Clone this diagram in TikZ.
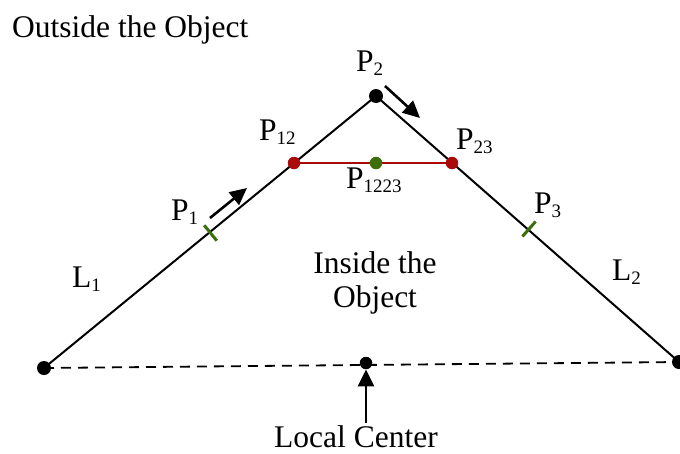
\documentclass[tikz,border=0pt]{standalone}
\usepackage{fontspec}
\setmainfont{Liberation Serif}
\usetikzlibrary{arrows.meta,calc}
\newcommand{\sbs}[1]{\raisebox{-4pt}{\fontsize{19pt}{19pt}\selectfont #1}}
\definecolor{dred}{RGB}{170,10,10}
\definecolor{dgreen}{RGB}{60,110,10}
\begin{document}
\begin{tikzpicture}[x=1pt,y=-1pt,
  lbl/.style={anchor=base west, inner sep=0pt, font=\fontsize{31.5pt}{34pt}\selectfont},
  clbl/.style={anchor=base, inner sep=0pt, font=\fontsize{31.5pt}{34pt}\selectfont},
  edge/.style={line width=2pt, black},
  dot/.style={circle, fill=#1, inner sep=0pt, minimum size=14pt},
  tickmark/.style={line width=3pt, dgreen},
  motion/.style={line width=2.6pt, -{Triangle[length=17pt,width=16pt]}}]
\useasboundingbox (0,0) rectangle (680,453);
% vertices
\coordinate (A) at (44,368);
\coordinate (T) at (376,96);
\coordinate (B) at (679,362);
\coordinate (LC) at (366,363);
\coordinate (Q12) at (294,163);
\coordinate (Q23) at (452,163);
\coordinate (Q1223) at (376,163);
\coordinate (T1) at (210.5,233);
\coordinate (T3) at (529,229);
% edges
\draw[edge] (A) -- (T) -- (B);
\draw[line width=1.8pt, dash pattern=on 10pt off 7pt] (A) -- (B);
\draw[line width=2pt, dred] (Q12) -- (Q23);
% ticks
\draw[tickmark] ($(T1)+(-6.3,-7.7)$) -- ($(T1)+(6.3,7.7)$);
\draw[tickmark] ($(T3)+(-6.6,7.5)$) -- ($(T3)+(6.6,-7.5)$);
% dots
\node[dot=black] (nA) at (A) {};
\node[dot=black] (nT) at (T) {};
\node[dot=black] (nB) at (B) {};
\node[dot=black, minimum size=12.5pt] (nLC) at (LC) {};
\node[dot=dred, minimum size=12.5pt] (n12) at (Q12) {};
\node[dot=dred, minimum size=12.5pt] (n23) at (Q23) {};
\node[dot=dgreen, minimum size=12.5pt] (n1223) at (Q1223) {};
% motion arrows
\coordinate (a1s) at (210,218);
\coordinate (a1e) at (247,188);
\coordinate (a2s) at (385,86);
\coordinate (a2e) at (420,118);
\coordinate (a3s) at (366,423);
\draw[motion] (a1s) -- (a1e);
\draw[motion] (a2s) -- (a2e);
\draw[motion] (a3s) -- (nLC.south);
% labels
\node[lbl] (out) at (12,37) {Outside the Object};
\node[lbl] (lP2) at (356,71) {P\sbs{2}};
\node[lbl] (lP12) at (259,140) {P\sbs{12}};
\node[lbl] (lP23) at (456,149) {P\sbs{23}};
\node[lbl] (lP1223) at (346,188) {P\sbs{1223}};
\node[lbl] (lP1) at (171,220) {P\sbs{1}};
\node[lbl] (lP3) at (534,213) {P\sbs{3}};
\node[lbl] (lL1) at (72,287) {L\sbs{1}};
\node[lbl] (lL2) at (612,280) {L\sbs{2}};
\node[clbl] (in1) at (375,273) {Inside the};
\node[clbl] (in2) at (375,307) {Object};
\node[clbl] (loc) at (356,447) {Local Center};
\end{tikzpicture}
\end{document}
